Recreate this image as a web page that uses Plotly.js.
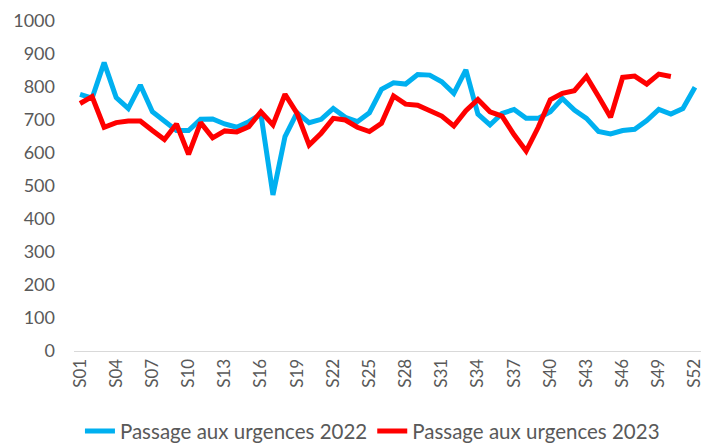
<!DOCTYPE html>
<html>
<head>
<meta charset="utf-8">
<script src="https://cdn.plot.ly/plotly-3.0.1.min.js"></script>
<style>html,body{margin:0;padding:0;background:#fff;}#chart{width:704px;height:445px;}</style>
</head>
<body>
<div id="chart"></div>
<script>
const weeks = ["S01","S02","S03","S04","S05","S06","S07","S08","S09","S10","S11","S12","S13","S14","S15","S16","S17","S18","S19","S20","S21","S22","S23","S24","S25","S26","S27","S28","S29","S30","S31","S32","S33","S34","S35","S36","S37","S38","S39","S40","S41","S42","S43","S44","S45","S46","S47","S48","S49","S50","S51","S52"];
const tickWeeks = ["S01","S04","S07","S10","S13","S16","S19","S22","S25","S28","S31","S34","S37","S40","S43","S46","S49","S52"];
const values2022 = [778,766,874,768,735,806,725,695,668,668,702,703,688,678,695,718,473,650,722,692,702,735,708,695,722,793,813,809,838,836,816,781,852,718,685,720,732,705,705,725,765,730,705,665,658,668,672,698,732,718,735,799];
const values2023 = [750,771,678,692,697,697,668,641,688,596,692,646,667,664,680,725,685,778,720,624,660,705,700,678,665,690,773,748,745,727,712,682,728,762,725,712,655,606,678,761,781,789,832,771,708,829,833,809,839,832];
const name2022 = "Passage aux urgences 2022";
const name2023 = "Passage aux urgences 2023";

const FONT = "Lato, 'Open Sans', sans-serif";
const traces = [
  {x: weeks, y: values2022, name: name2022, type: "scatter", mode: "lines",
   line: {color: "#00B0F0", width: 5, shape: "linear"}},
  {x: weeks.slice(0, values2023.length), y: values2023, name: name2023, type: "scatter", mode: "lines",
   line: {color: "#FF0000", width: 5, shape: "linear"}}
];
const layout = {
  width: 704, height: 445,
  margin: {l: 74, r: 3, t: 21, b: 94, autoexpand: false},
  paper_bgcolor: "#fff", plot_bgcolor: "#fff",
  font: {family: FONT, color: "#595959", size: 18},
  showlegend: true,
  legend: {orientation: "h", x: 0.476, xanchor: "center", y: -0.243, yanchor: "middle",
           font: {family: FONT, size: 20.5, color: "#595959"}, tracegroupgap: 0},
  xaxis: {type: "category", categoryorder: "array", categoryarray: weeks,
          range: [-0.5, 51.5], tickmode: "array", tickvals: tickWeeks, ticktext: tickWeeks,
          tickangle: -90, showgrid: false, zeroline: false, showline: true,
          linecolor: "#D9D9D9", linewidth: 1, ticks: "", fixedrange: true, automargin: false,
          tickfont: {family: FONT, size: 17, color: "#595959"}},
  yaxis: {range: [0, 1000], dtick: 100, tick0: 0, showgrid: false, zeroline: false,
          showline: false, ticks: "", ticklabelstandoff: 18, automargin: false,
          tickfont: {family: FONT, size: 18, color: "#595959"}}
};
Plotly.newPlot("chart", traces, layout, {displayModeBar: false, staticPlot: true});
</script>
</body>
</html>
